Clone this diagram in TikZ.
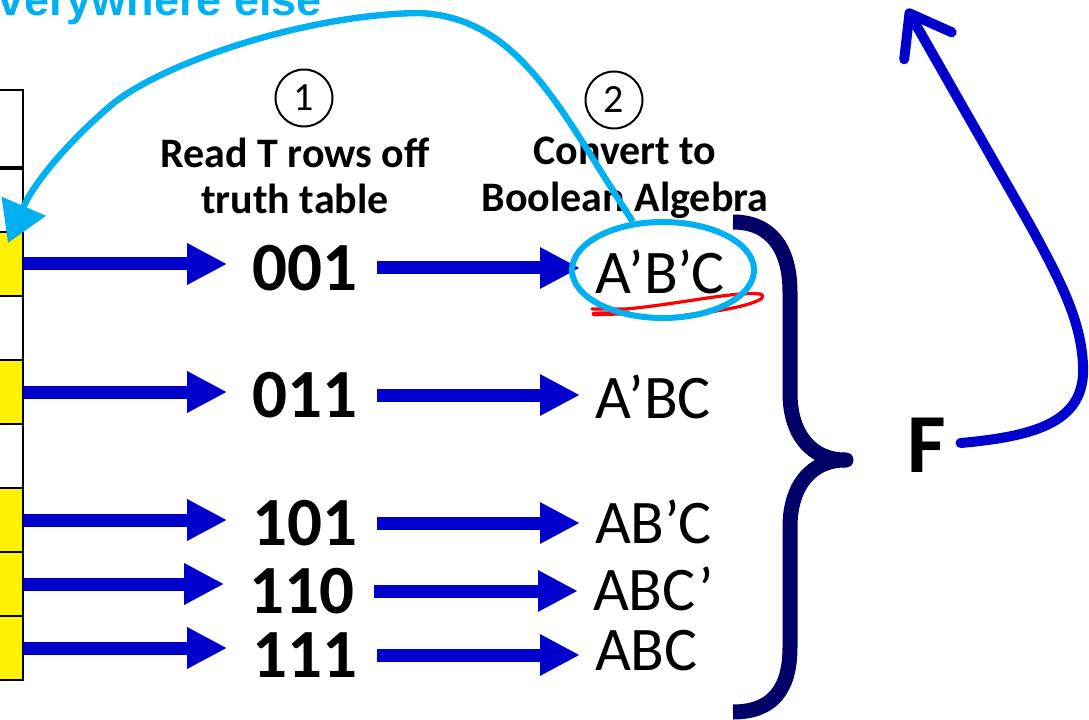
\documentclass[tikz,border=0pt]{standalone}
\usepackage{fontspec}
\setmainfont{Carlito}
\newfontfamily\arialfont{Liberation Sans}
\usetikzlibrary{arrows.meta,shapes.geometric,calc}
\definecolor{arrowblue}{HTML}{0000CC}
\definecolor{skycyan}{HTML}{00B0F0}
\definecolor{bracenavy}{HTML}{000066}
\definecolor{scribred}{HTML}{FF0000}
\begin{document}
\begin{tikzpicture}[x=0.75pt,y=-0.75pt,
  cell/.style={draw=black,line width=1.9pt,minimum width=32.25pt,minimum height=48pt,inner sep=0pt,outer sep=0pt},
  ycell/.style={cell,fill=yellow},
  num/.style={inner sep=0pt,outer sep=0pt,font=\bfseries\fontsize{51.75}{56}\selectfont},
  term/.style={inner sep=0pt,outer sep=0pt,anchor=west,font=\fontsize{46.5}{50}\selectfont},
  head/.style={align=center,inner sep=0pt,font=\bfseries\fontsize{31.5}{35}\selectfont},
  stepnum/.style={circle,draw=black,line width=1.5pt,minimum size=42.75pt,inner sep=0pt,font=\fontsize{30}{32}\selectfont},
  fatarrow/.style={draw=arrowblue,line width=9.75pt,-{Triangle[length=30pt,width=29pt]},arrowblue}
]
\useasboundingbox (0,0) rectangle (1089,720);

% top label
\node[anchor=base east,inner sep=0pt,text=skycyan,font=\arialfont\bfseries\fontsize{33.75}{36}\selectfont] (topl) at (322,16) {everywhere else};

% truth table column
\node[cell,minimum height=58.5pt] (c0) at (1.5,129) {};
\node[cell] (r000) at (1.5,200) {};
\node[ycell] (r001) at (1.5,264) {};
\node[cell] (r010) at (1.5,328) {};
\node[ycell] (r011) at (1.5,392) {};
\node[cell] (r100) at (1.5,456) {};
\node[ycell] (r101) at (1.5,520) {};
\node[ycell] (r110) at (1.5,584) {};
\node[ycell] (r111) at (1.5,648) {};
\draw[line width=3pt] (c0.south west) -- (c0.south east);

% headers
\node[stepnum] (s1) at (304,98) {1};
\node[stepnum] (s2) at (614,100) {2};
\node[head] (h1) at (295,176) {Read T rows off\\truth table};
\node[head] (h2) at (625,178) {Convert to\\Boolean Algebra};

% numbers
\node[num] (n1) at (305,268) {001};
\node[num] (n2) at (305,395) {011};
\node[num] (n3) at (305,523) {101};
\node[num] (n4) at (302,591) {110};
\node[num] (n5) at (305,655) {111};

% terms
\node[term] (t1) at (595,272) {A’B’C};
\node[term] (t2) at (595,397) {A’BC};
\node[term] (t3) at (595,522) {AB’C};
\node[term] (t4) at (593,589) {ABC’};
\node[term] (t5) at (595,651) {ABC};

% left arrows
\foreach \r/\n in {r001/n1,r011/n2,r101/n3,r110/n4,r111/n5}{
  \draw[fatarrow,shorten >=19pt] (\r.east) -- (\r.east -| \n.west);
}
% right arrows
\foreach \n/\t in {n1/t1,n2/t2,n3/t3,n4/t4,n5/t5}{
  \draw[fatarrow,shorten <=14.5pt,shorten >=11.25pt] (\n.east) -- (\n.east -| \t.west);
}

% red scribble
\draw[scribred,line width=2.4pt,line cap=round,line join=round]
  (592,309) -- (626,309) .. controls (680,304) and (735,291) .. (760,294)
  .. controls (772,298) and (745,309) .. (685,315);
\draw[scribred,line width=3.5pt,line cap=round] (594,314) -- (628,313);

% cyan ring and curve
\node[ellipse,draw=skycyan,line width=4.5pt,minimum width=136.5pt,minimum height=72pt,inner sep=0pt] (ring) at (663,270) {};
\coordinate (cytip) at (8,243);
\draw[skycyan,line width=4.8pt,-{Triangle[length=30pt,width=35pt]}]
  (ring.122) .. controls (560,110) and (520,18) .. (420,13)
  .. controls (310,14) and (170,60) .. (115,102)
  .. controls (75,135) and (35,180) .. (cytip);

% brace
\draw[bracenavy,line width=11.25pt,line join=round]
  (733,222) .. controls (772,222) and (790,250) .. (790,292) -- (790,393)
  .. controls (790,435) and (812,460) .. (845,460)
  .. controls (812,460) and (790,485) .. (790,527) -- (790,647)
  .. controls (790,690) and (772,712) .. (733,712);
\fill[bracenavy] (846,460) circle[radius=7.5];

% F and its curve
\node[inner sep=0pt,font=\bfseries\fontsize{63}{66}\selectfont] (F) at (927,445) {F};
\coordinate (up) at (907,9);
\draw[arrowblue,line width=7.5pt,line cap=round,-{Straight Barb[length=28pt,width=41pt,round]}]
  ($(F.east)+(14,-2)$) .. controls (1040,436) and (1086,420) .. (1083,365)
  .. controls (1081,320) and (1060,280) .. (1030,225) -- (up);
\end{tikzpicture}
\end{document}
